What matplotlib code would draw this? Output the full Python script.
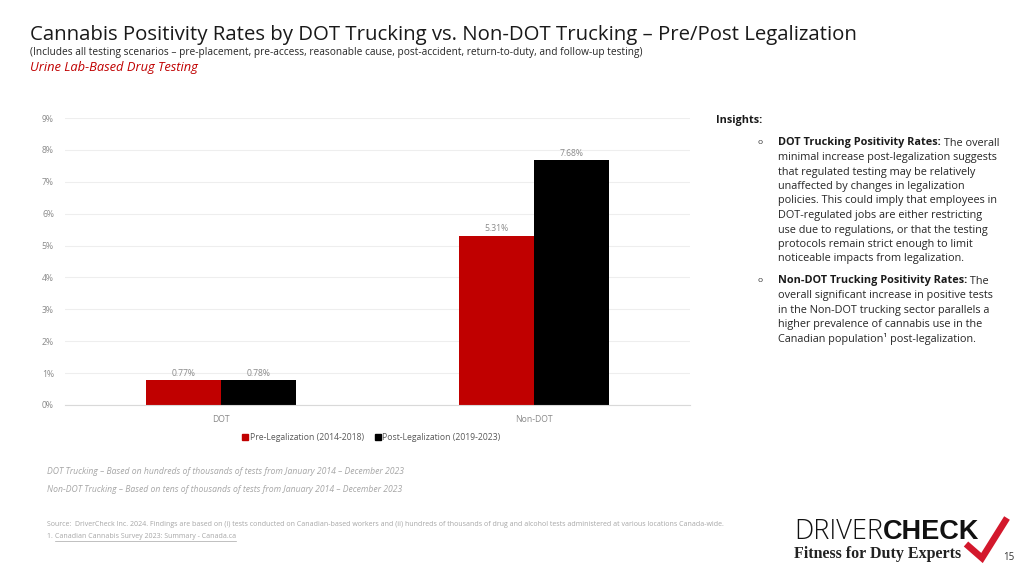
import matplotlib
matplotlib.use("Agg")
import matplotlib.pyplot as plt
import numpy as np
from matplotlib.lines import Line2D

plt.rcParams['font.family'] = ['Open Sans', 'DejaVu Sans']

categories = ["DOT", "Non-DOT"]
series_names = ["Pre-Legalization (2014-2018)", "Post-Legalization (2019-2023)"]
pre_values = [0.0077, 0.0531]
post_values = [0.0078, 0.0768]
pre_labels = ["0.77%", "5.31%"]
post_labels = ["0.78%", "7.68%"]
y_ticks = [0, 0.01, 0.02, 0.03, 0.04, 0.05, 0.06, 0.07, 0.08, 0.09]
y_tick_labels = ["0%", "1%", "2%", "3%", "4%", "5%", "6%", "7%", "8%", "9%"]

RED = "#C00000"
BLACK = "#000000"

W, H = 1024, 576
fig = plt.figure(figsize=(10.24, 5.76), dpi=100)

def fx(px):
    return px / W

def fy(py):
    return 1 - py / H

ax = fig.add_axes([fx(65), fy(405), fx(690) - fx(65), fy(118) - fy(405)])
x = np.arange(len(categories))
bw = 0.24
b1 = ax.bar(x - bw / 2, pre_values, bw, color=RED, label=series_names[0])
b2 = ax.bar(x + bw / 2, post_values, bw, color=BLACK, label=series_names[1])
for bars, labels in ((b1, pre_labels), (b2, post_labels)):
    for rect, lab in zip(bars, labels):
        ax.text(rect.get_x() + rect.get_width() / 2, rect.get_height() + 0.0008, lab,
                ha="center", va="bottom", fontsize=6.2, color="#8A8A8A")

ax.set_xlim(-0.5, 1.5)
ax.set_ylim(0, 0.09)
ax.set_yticks(y_ticks)
ax.set_yticklabels(y_tick_labels)
ax.set_xticks(x)
ax.set_xticklabels(categories)
ax.tick_params(axis="both", length=0, labelsize=6.2, colors="#8A8A8A")
ax.tick_params(axis="y", pad=8)
ax.tick_params(axis="x", pad=7)
ax.grid(axis="y", color="#EEEEEE", linewidth=0.8)
ax.set_axisbelow(True)
for s in ("top", "right", "left"):
    ax.spines[s].set_visible(False)
ax.spines["bottom"].set_color("#D9D9D9")
ax.spines["bottom"].set_linewidth(0.8)

handles = [Line2D([0], [0], marker="s", color="none", markerfacecolor=RED, markeredgecolor=RED, markersize=4.5),
           Line2D([0], [0], marker="s", color="none", markerfacecolor=BLACK, markeredgecolor=BLACK, markersize=4.5)]
fig.legend(handles, series_names, loc="center", bbox_to_anchor=(fx(371), fy(438)), ncol=2,
           frameon=False, fontsize=6.2, labelcolor="#595959", handletextpad=0.1,
           columnspacing=1.2, handlelength=0.8)

# Titles
fig.text(fx(30), fy(35), "Cannabis Positivity Rates by DOT Trucking vs. Non-DOT Trucking \u2013 Pre/Post Legalization",
         fontsize=14.7, color="#1a1a1a", va="center", ha="left")
fig.text(fx(30), fy(53), "(Includes all testing scenarios \u2013 pre-placement, pre-access, reasonable cause, post-accident, return-to-duty, and follow-up testing)",
         fontsize=7.3, color="#262626", va="center", ha="left")
fig.text(fx(30), fy(68), "Urine Lab-Based Drug Testing", fontsize=9.3, color=RED,
         style="italic", va="center", ha="left")

# Insights
fig.text(fx(716), fy(120), "Insights:", fontsize=7.8, weight="bold", color="#1a1a1a", va="center")
bullet1_bold = "DOT Trucking Positivity Rates:"
bullet1_lines = [" The overall",
                 "minimal increase post-legalization suggests",
                 "that regulated testing may be relatively",
                 "unaffected by changes in legalization",
                 "policies. This could imply that employees in",
                 "DOT-regulated jobs are either restricting",
                 "use due to regulations, or that the testing",
                 "protocols remain strict enough to limit",
                 "noticeable impacts from legalization."]
bullet2_bold = "Non-DOT Trucking Positivity Rates:"
bullet2_lines = [" The",
                 "overall significant increase in positive tests",
                 "in the Non-DOT trucking sector parallels a",
                 "higher prevalence of cannabis use in the",
                 "Canadian population\u00b9 post-legalization."]

lh = 14.5
ins_fs = 7.8
tx = 778

def bullet(y0, bold, lines):
    fig.text(fx(757), fy(y0), "o", fontsize=6, color="#333333", va="center")
    t = fig.text(fx(tx), fy(y0), bold, fontsize=ins_fs, weight="bold", color="#1a1a1a", va="center")
    fig.canvas.draw()
    bb = t.get_window_extent()
    fig.text(bb.x1 / W, fy(y0), lines[0], fontsize=ins_fs, color="#262626", va="center")
    for i, ln in enumerate(lines[1:], start=1):
        fig.text(fx(tx), fy(y0 + i * lh), ln, fontsize=ins_fs, color="#262626", va="center")

bullet(143, bullet1_bold, bullet1_lines)
bullet(281, bullet2_bold, bullet2_lines)

# Footnotes
fig.text(fx(47), fy(472), "DOT Trucking \u2013 Based on hundreds of thousands of tests from January 2014 \u2013 December 2023",
         fontsize=6.2, style="italic", color="#A6A6A6", va="center")
fig.text(fx(47), fy(489), "Non-DOT Trucking \u2013 Based on tens of thousands of tests from January 2014 \u2013 December 2023",
         fontsize=6.2, style="italic", color="#A6A6A6", va="center")
fig.text(fx(47), fy(525), "Source:  DriverCheck Inc. 2024. Findings are based on (i) tests conducted on Canadian-based workers and (ii) hundreds of thousands of drug and alcohol tests administered at various locations Canada-wide.",
         fontsize=5.0, color="#A6A6A6", va="center")
t = fig.text(fx(47), fy(536), "1. ", fontsize=5.0, color="#A6A6A6", va="center")
fig.canvas.draw()
bb = t.get_window_extent()
t2 = fig.text(bb.x1 / W, fy(536), "Canadian Cannabis Survey 2023: Summary - Canada.ca", fontsize=5.0, color="#A6A6A6", va="center")
fig.canvas.draw()
bb2 = t2.get_window_extent()
fig.add_artist(Line2D([bb2.x0 / W, bb2.x1 / W], [fy(540.5), fy(540.5)], color="#A6A6A6", linewidth=0.5))

# Logo
t = fig.text(fx(794), fy(539), "DRIVER", fontsize=19.5, color="#111111", weight="light", va="baseline", ha="left")
fig.canvas.draw()
bb = t.get_window_extent()
t = fig.text(bb.x1 / W, fy(539), "CHECK", fontsize=19.5, color="#111111", weight="heavy", va="baseline", ha="left",
             family=["Liberation Sans Narrow", "Liberation Sans", "DejaVu Sans"])
fig.text(fx(794), fy(558), "Fitness for Duty Experts", fontsize=11.5, color="#222222", weight="bold",
         family=["Liberation Serif", "DejaVu Serif"], va="baseline", ha="left")
fig.add_artist(Line2D([fx(966), fx(982), fx(1007)], [fy(544), fy(558), fy(518)],
                      color="#D3182C", linewidth=4.8, solid_capstyle="butt", solid_joinstyle="miter", zorder=5))
fig.text(fx(1003), fy(557), "15", fontsize=7, color="#333333", va="center", ha="left")

fig.savefig("out.png", dpi=100, facecolor="white")
